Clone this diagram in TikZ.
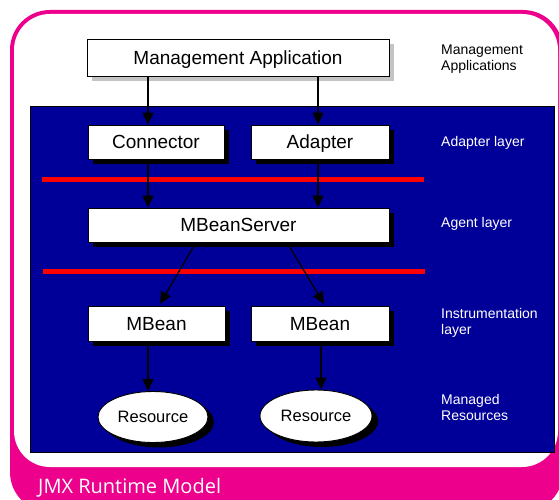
\documentclass[tikz,border=0pt]{standalone}
\usepackage{fontspec}
\setmainfont{Liberation Sans}
\newfontfamily\titlefont{Open Sans}
\usetikzlibrary{arrows.meta,shapes.geometric,shadows}

\definecolor{framepink}{HTML}{EC008C}
\definecolor{layerblue}{HTML}{000099}
\definecolor{layerred}{HTML}{FF0000}
\definecolor{shadowgrey}{HTML}{C4C4C4}

\tikzset{
  box/.style={draw=black, line width=0.9pt, fill=white, inner sep=0pt, text depth=0pt,
    font=\fontsize{19}{21}\selectfont},
  darkshadow/.style={general shadow={fill=black, shadow xshift=5pt, shadow yshift=-5pt}},
  greyshadow/.style={general shadow={fill=shadowgrey, shadow xshift=5pt, shadow yshift=-5pt}},
  res/.style={ellipse, draw=black, line width=0.9pt, fill=white, inner sep=0pt, text depth=0pt,
    font=\fontsize{16.5}{18}\selectfont,
    general shadow={fill=black, shadow xshift=6pt, shadow yshift=-5pt}},
  flow/.style={draw=black, line width=1.3pt, -{Triangle[length=12pt,width=11pt]}},
  layerline/.style={draw=layerred, line width=5pt},
  sidelabel/.style={anchor=north west, inner sep=0pt, align=left,
    font=\fontsize{14}{16}\selectfont},
}

\begin{document}
\begin{tikzpicture}[x=1pt, y=-1pt]
  \useasboundingbox (0,0) rectangle (559,500);
  \clip (0,0) rectangle (559,500);

  % pink frame with white panel
  \fill[framepink, rounded corners=40pt] (10,10) rectangle (563,512);
  \fill[white, rounded corners=36pt] (14,14) rectangle (558,467);

  % blue layer area
  \draw[fill=layerblue, draw=black, line width=0.8pt] (30,106) rectangle (554,452);

  % layer separators
  \draw[layerline] (42,179) -- (424,179);
  \draw[layerline] (43,271) -- (425,271);

  % components
  \node[box, greyshadow, minimum width=302pt, minimum height=37pt] (ma) at (238,57.5) {Management Application};
  \node[box, darkshadow, minimum width=136pt, minimum height=34pt] (con) at (156,142) {Connector};
  \node[box, darkshadow, minimum width=138pt, minimum height=34pt] (ada) at (320,142) {Adapter};
  \node[box, darkshadow, minimum width=301pt, minimum height=34pt] (mbs) at (238.5,225) {MBeanServer};
  \node[box, darkshadow, minimum width=137pt, minimum height=35pt] (mb1) at (156.5,323.5) {MBean};
  \node[box, darkshadow, minimum width=138pt, minimum height=35pt] (mb2) at (320,323.5) {MBean};
  \node[res, minimum width=110pt, minimum height=51pt] (res1) at (153,417) {Resource};
  \node[res, minimum width=112pt, minimum height=52pt] (res2) at (316,416) {Resource};

  % connectors
  \draw[flow] ([xshift=-8pt]con.north |- ma.south) -- ([xshift=-8pt]con.north);
  \draw[flow] ([xshift=-2pt]ada.north |- ma.south) -- ([xshift=-2pt]ada.north);
  \draw[flow] ([xshift=-8pt]con.south) -- ([xshift=-8pt]con.south |- mbs.north);
  \draw[flow] ([xshift=-2pt]ada.south) -- ([xshift=-2pt]ada.south |- mbs.north);
  \draw[flow, shorten >=2pt] ([xshift=-42.5pt]mbs.south) -- ([xshift=2.5pt]mb1.north);
  \draw[flow, shorten >=2pt] ([xshift=48.5pt]mbs.south) -- ([xshift=5pt]mb2.north);
  \draw[flow] ([xshift=-8.5pt]mb1.south) -- ([xshift=-8.5pt]mb1.south |- res1.north);
  \draw[flow] ([xshift=1pt]mb2.south) -- ([xshift=1pt]mb2.south |- res2.north);

  % layer names
  \node[sidelabel] (lma) at (441,45) {Management\\Applications};
  \node[sidelabel, text=white] (lad) at (441,136) {Adapter layer};
  \node[sidelabel, text=white] (lag) at (441,217) {Agent layer};
  \node[sidelabel, text=white] (lin) at (441,308) {Instrumentation\\layer};
  \node[sidelabel, text=white] (lmr) at (441,394) {Managed\\Resources};

  % caption
  \node[anchor=base west, inner sep=0pt, text=white,
        font=\titlefont\fontsize{20}{24}\selectfont] (cap) at (38,493) {JMX Runtime Model};
\end{tikzpicture}
\end{document}
